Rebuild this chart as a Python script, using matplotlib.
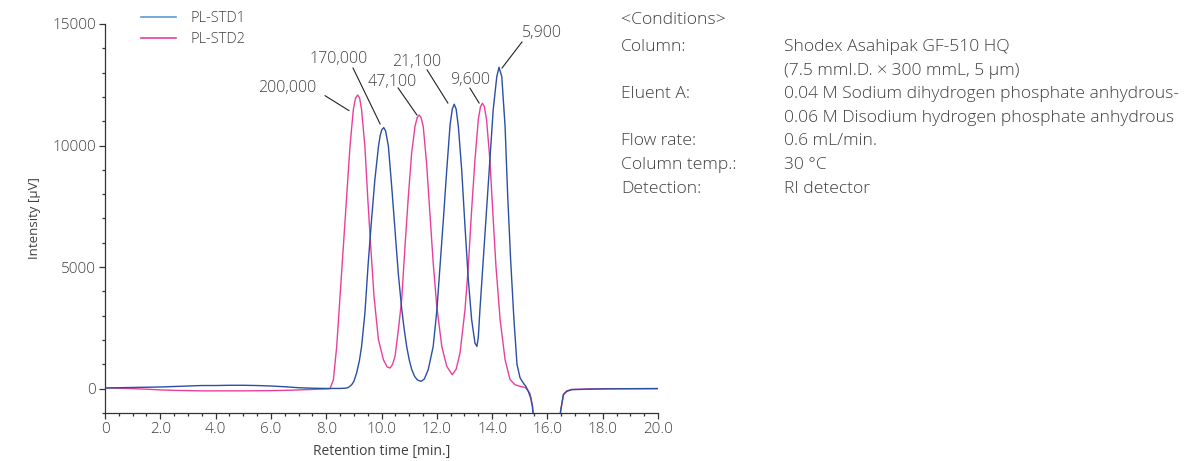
import matplotlib
matplotlib.use("Agg")
import matplotlib.pyplot as plt
from matplotlib.ticker import MultipleLocator, FixedLocator
from matplotlib.lines import Line2D

# ---- data ----
std1_time = [0.0, 0.5, 1.0, 1.5, 2.0, 2.5, 3.0, 3.5, 4.0, 4.5, 5.0, 5.5, 6.0, 6.5, 7.0, 7.5,
             8.0, 8.5, 8.7, 8.8, 8.92, 9.0, 9.10, 9.2, 9.28, 9.40, 9.52, 9.64, 9.76, 9.89,
             9.95, 10.01, 10.08, 10.15, 10.25, 10.37, 10.49, 10.61, 10.73, 10.82, 10.91,
             11.0, 11.09, 11.2, 11.3, 11.43, 11.55, 11.69, 11.87, 12.0, 12.12, 12.24, 12.36,
             12.48, 12.56, 12.63, 12.70, 12.78, 12.90, 13.02, 13.14, 13.26, 13.38, 13.45,
             13.50, 13.56, 13.68, 13.80, 13.92, 14.04, 14.17, 14.25, 14.35, 14.47, 14.56,
             14.67, 14.79, 14.90, 15.01, 15.13, 15.22, 15.31, 15.40, 15.46, 15.52,
             16.43, 16.48, 16.58, 16.70, 16.88, 17.5, 18.0, 19.0, 20.0]
std1_signal = [30, 40, 50, 60, 70, 90, 110, 130, 130, 140, 140, 130, 110, 80, 40, 20,
               10, 10, 20, 50, 160, 300, 645, 1150, 1740, 3110, 5170, 6950, 8590, 9960,
               10400, 10650, 10740, 10600, 9960, 8300, 6500, 4700, 3300, 2450, 1740,
               1200, 800, 500, 360, 300, 400, 780, 1740, 3200, 5100, 7000, 9000,
               10850, 11500, 11700, 11500, 10780, 9000, 6670, 4480, 2840, 1880, 1740,
               2100, 3250, 5300, 7360, 9410, 11470, 12840, 13220, 12840, 10780, 8040,
               5300, 2840, 1000, 450, 230, 100, -110, -400, -750, -1500,
               -1500, -900, -250, -110, -40, -20, -10, 0, 0]

std2_time = [0.0, 0.5, 1.0, 1.5, 2.0, 2.5, 3.0, 3.5, 4.0, 5.0, 6.0, 6.5, 7.0, 7.5, 8.0,
             8.14, 8.26, 8.38, 8.50, 8.62, 8.74, 8.86, 8.98, 9.06, 9.14, 9.21, 9.28, 9.40,
             9.50, 9.61, 9.73, 9.89, 10.07, 10.2, 10.31, 10.40, 10.49, 10.61, 10.73, 10.85,
             10.97, 11.09, 11.21, 11.29, 11.36, 11.43, 11.51, 11.63, 11.75, 11.87, 12.0,
             12.18, 12.36, 12.56, 12.70, 12.84, 13.02, 13.14, 13.26, 13.38, 13.50, 13.58,
             13.65, 13.72, 13.80, 13.92, 14.02, 14.14, 14.29, 14.47, 14.65, 14.83, 15.0,
             15.2, 15.31, 15.37, 15.46, 15.52, 16.43, 16.48, 16.58, 16.70, 16.88, 17.5,
             18.0, 19.0, 20.0]
std2_signal = [30, 20, 0, -20, -50, -70, -80, -90, -90, -90, -80, -70, -50, -30, -10,
               0, 370, 1740, 3790, 5850, 7900, 9960, 11470, 11950, 12080, 11950, 11470, 9960,
               7900, 5850, 3790, 2010, 1190, 900, 850, 1000, 1330, 2420, 3660, 5850,
               7900, 9690, 10780, 11150, 11260, 11150, 10780, 9280, 7220, 5170, 3380,
               1740, 920, 575, 800, 1470, 3250, 5030, 7360, 9410, 11060, 11600,
               11740, 11600, 11060, 9410, 7360, 5030, 2840, 1190, 370, 160, 100,
               50, -100, -200, -700, -1500, -1500, -900, -230, -90, -30, -10,
               0, 0, 10]

series_names = ["PL-STD1", "PL-STD2"]
peak_labels = ["200,000", "170,000", "47,100", "21,100", "9,600", "5,900"]
x_tick_values = [0, 2, 4, 6, 8, 10, 12, 14, 16, 18, 20]
x_tick_labels = ["0", "2.0", "4.0", "6.0", "8.0", "10.0", "12.0", "14.0", "16.0", "18.0", "20.0"]
y_tick_values = [0, 5000, 10000, 15000]

cond_keys = ["Column:", "", "Eluent A:", "", "Flow rate:", "Column temp.:", "Detection:"]
cond_vals = ["Shodex Asahipak GF-510 HQ",
             "(7.5 mmI.D. \u00d7 300 mmL, 5 \u00b5m)",
             "0.04 M Sodium dihydrogen phosphate anhydrous-",
             "0.06 M Disodium hydrogen phosphate anhydrous",
             "0.6 mL/min.",
             "30 \u00b0C",
             "RI detector"]

# ---- styling ----
plt.rcParams['font.family'] = ['Open Sans', 'DejaVu Sans']
plt.rcParams['font.weight'] = 'light'
TXT = "#404040"
BLUE = "#2a4fa3"
BLUE_LEG = "#5b9bd5"
PINK = "#e8409a"

fig = plt.figure(figsize=(11.92, 4.61), dpi=100)
ax = fig.add_axes([105/1192, 1-413/461, (658-105)/1192, (413-24)/461])

ax.plot(std2_time, std2_signal, color=PINK, lw=1.0, zorder=2, solid_joinstyle="round")
ax.plot(std1_time, std1_signal, color=BLUE, lw=1.0, zorder=3, solid_joinstyle="round")

ax.set_xlim(0, 20)
ax.set_ylim(-1000, 15000)

for s in ["top", "right"]:
    ax.spines[s].set_visible(False)
for s in ["left", "bottom"]:
    ax.spines[s].set_color("#333333")
    ax.spines[s].set_linewidth(0.9)

ax.xaxis.set_major_locator(FixedLocator(x_tick_values))
ax.set_xticklabels(x_tick_labels)
ax.xaxis.set_minor_locator(MultipleLocator(0.5))
ax.yaxis.set_major_locator(FixedLocator(y_tick_values))
ax.yaxis.set_minor_locator(MultipleLocator(1000))
ax.tick_params(which="major", direction="out", length=4.5, width=0.9, color="#333333",
               labelsize=11, labelcolor=TXT, pad=2)
ax.tick_params(which="minor", direction="out", length=2.5, width=0.9, color="#333333")

ax.set_xlabel("Retention time [min.]", fontsize=10, color=TXT, labelpad=5)
ax.set_ylabel("Intensity [\u00b5V]", fontsize=9.5, color=TXT, labelpad=8)

# legend
handles = [Line2D([], [], color=BLUE_LEG, lw=1.2), Line2D([], [], color=PINK, lw=1.2)]
leg = ax.legend(handles, series_names, loc="upper left", bbox_to_anchor=(0.05, 1.055),
                frameon=False, fontsize=10.5, handlelength=2.4, handletextpad=1.0,
                labelspacing=0.4, labelcolor=TXT, borderaxespad=0.2)

# peak annotations (text position, leader start, leader end) in data coords
ann_layout = [
    ((6.58, 12370), (7.96, 12050), (8.82, 11440)),
    ((8.46, 13560), (8.97, 13190), (9.95, 10890)),
    ((10.38, 12620), (10.60, 12370), (11.28, 11260)),
    ((11.28, 13440), (11.65, 13110), (12.40, 11750)),
    ((13.20, 12700), (13.20, 12360), (13.53, 11750)),
    ((15.80, 14630), (15.08, 14260), (14.36, 13190)),
]
for lab, (tp, ls, le) in zip(peak_labels, ann_layout):
    ax.text(tp[0], tp[1], lab, ha="center", va="center", fontsize=11.5, color=TXT)
    ax.plot([ls[0], le[0]], [ls[1], le[1]], color="#222222", lw=0.8, zorder=4)

# conditions block
CFS = 12.6
fig.text(621/1192, 1-20/461, "<Conditions>", fontsize=CFS, color=TXT, va="center")
line_h = 23.6
for i, (k, v) in enumerate(zip(cond_keys, cond_vals)):
    y = 1 - (47 + i*line_h)/461
    if k:
        fig.text(621/1192, y, k, fontsize=CFS, color=TXT, va="center")
    fig.text(784/1192, y, v, fontsize=CFS, color=TXT, va="center")

fig.savefig("out.png", dpi=100)
